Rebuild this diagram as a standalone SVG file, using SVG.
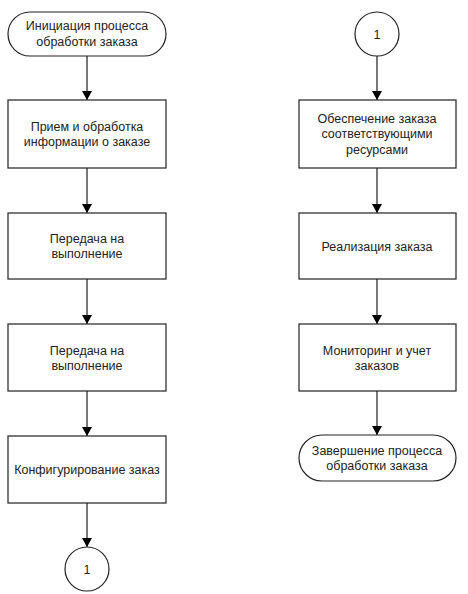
<svg xmlns="http://www.w3.org/2000/svg" width="468" height="594" viewBox="0 0 468 594">
<defs>
<marker id="arr" markerWidth="10" markerHeight="10" refX="9" refY="5" orient="auto" markerUnits="userSpaceOnUse">
<path d="M0,0 L9,5 L0,10 Z" fill="#000"/>
</marker>
<style>
.box{fill:#fff;stroke:#222;stroke-width:1.2}
.t{font-family:"Liberation Sans",Arial,sans-serif;font-size:12.5px;fill:#222;text-anchor:middle}
.c{stroke:#555;stroke-width:1.6;fill:none;marker-end:url(#arr)}
</style>
</defs>
<rect width="468" height="594" fill="#fff"/>
<g id="connectors">
<line class="c" x1="87" y1="56" x2="87" y2="100"/>
<line class="c" x1="87" y1="168" x2="87" y2="213"/>
<line class="c" x1="87" y1="279" x2="87" y2="324"/>
<line class="c" x1="87" y1="391" x2="87" y2="436"/>
<line class="c" x1="87" y1="503" x2="87" y2="547"/>
<line class="c" x1="377" y1="56" x2="377" y2="100"/>
<line class="c" x1="377" y1="168" x2="377" y2="213"/>
<line class="c" x1="377" y1="279" x2="377" y2="324"/>
<line class="c" x1="377" y1="391" x2="377" y2="435"/>
</g>
<g id="start">
<rect class="box" x="8" y="12" width="158" height="44" rx="22"/>
<text class="t" x="87" y="30">Инициация процесса</text>
<text class="t" x="87" y="46">обработки заказа</text>
</g>
<g id="n1">
<rect class="box" x="8" y="100" width="158" height="68"/>
<text class="t" x="87" y="131">Прием и обработка</text>
<text class="t" x="87" y="146">информации о заказе</text>
</g>
<g id="n2">
<rect class="box" x="8" y="213" width="158" height="66"/>
<text class="t" x="87" y="243">Передача на</text>
<text class="t" x="87" y="258">выполнение</text>
</g>
<g id="n3">
<rect class="box" x="8" y="324" width="158" height="67"/>
<text class="t" x="87" y="355">Передача на</text>
<text class="t" x="87" y="370">выполнение</text>
</g>
<g id="n4">
<rect class="box" x="8" y="436" width="158" height="67"/>
<text class="t" x="87" y="474">Конфигурирование заказ</text>
</g>
<g id="conn-out">
<circle class="box" cx="87" cy="569" r="22"/>
<text class="t" x="87" y="574">1</text>
</g>
<g id="conn-in">
<circle class="box" cx="377" cy="34" r="22"/>
<text class="t" x="377" y="39">1</text>
</g>
<g id="n5">
<rect class="box" x="299" y="100" width="157" height="68"/>
<text class="t" x="377" y="123">Обеспечение заказа</text>
<text class="t" x="377" y="138">соответствующими</text>
<text class="t" x="377" y="154">ресурсами</text>
</g>
<g id="n6">
<rect class="box" x="299" y="213" width="157" height="66"/>
<text class="t" x="377" y="251">Реализация заказа</text>
</g>
<g id="n7">
<rect class="box" x="299" y="324" width="157" height="67"/>
<text class="t" x="377" y="355">Мониторинг и учет</text>
<text class="t" x="377" y="370">заказов</text>
</g>
<g id="end">
<rect class="box" x="299" y="435" width="157" height="46" rx="23"/>
<text class="t" x="377" y="455">Завершение процесса</text>
<text class="t" x="377" y="470">обработки заказа</text>
</g>
</svg>
